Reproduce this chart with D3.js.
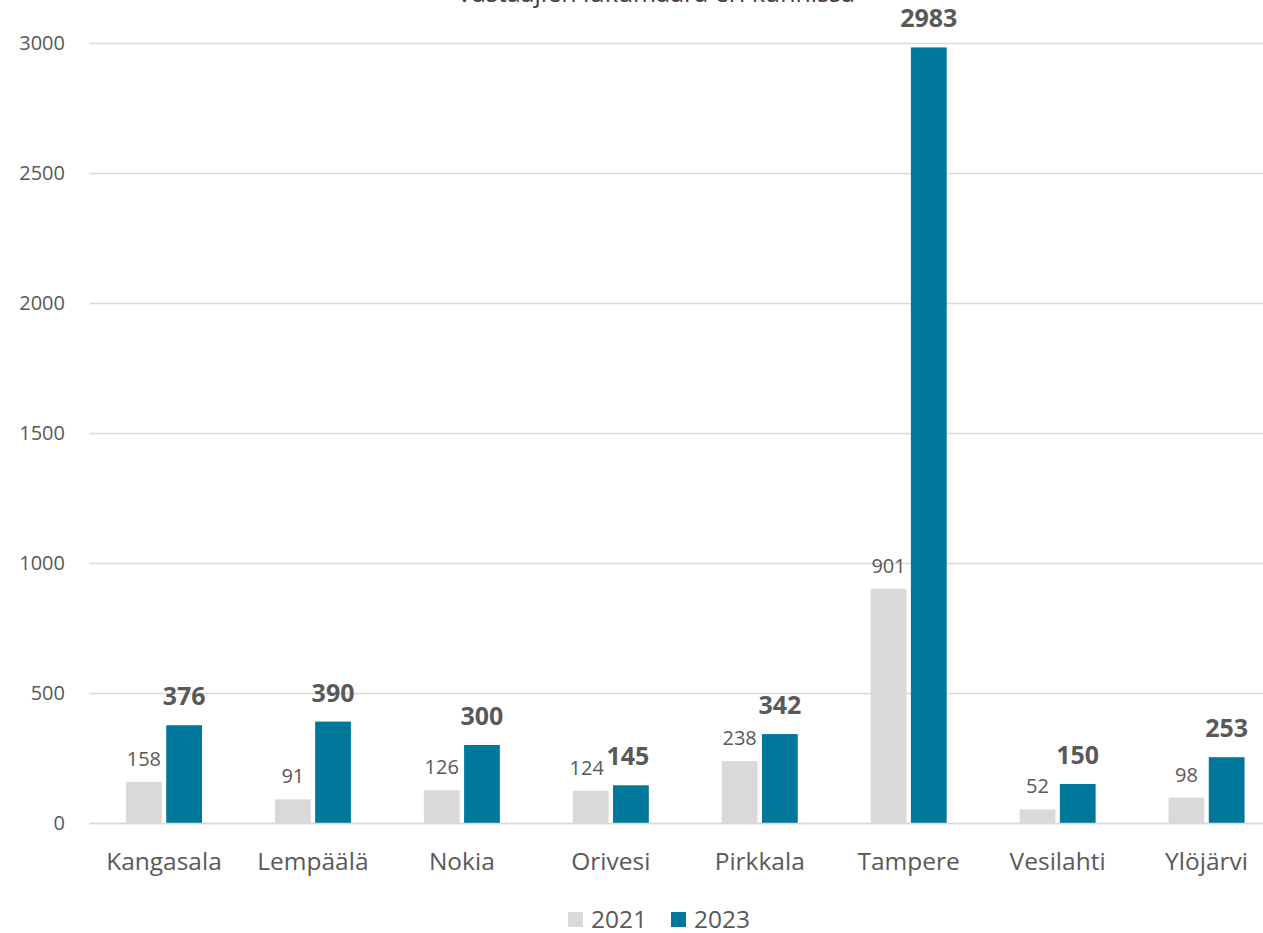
<!DOCTYPE html>
<html lang="fi">
<head>
  <meta charset="UTF-8">
  <title>Vastaajien lukumäärä eri kunnissa</title>
  <script src="https://d3js.org/d3.v7.min.js"></script>
  <style>
    body { margin: 0; background: #fff; }
    svg { display: block; font-family: "Open Sans", sans-serif; }
  </style>
</head>
<body>
<script>
  // data
  const municipalities = ['Kangasala', 'Lempäälä', 'Nokia', 'Orivesi', 'Pirkkala', 'Tampere', 'Vesilahti', 'Ylöjärvi'];
  const years = ['2021', '2023'];
  const values2021 = [158, 91, 126, 124, 238, 901, 52, 98];
  const values2023 = [376, 390, 300, 145, 342, 2983, 150, 253];
  const yTicks = [0, 500, 1000, 1500, 2000, 2500, 3000];

  const colors = { '2021': '#d9d9d9', '2023': '#00789c' };

  const svgWidth = 1263, svgHeight = 933;
  const plot = { left: 89.5, right: 1281, top: 43, bottom: 823 };

  const svg = d3.select('body').append('svg')
    .attr('width', svgWidth)
    .attr('height', svgHeight);

  const x = d3.scaleBand().domain(municipalities).range([plot.left, plot.right]).paddingInner(0).paddingOuter(0);
  const x1 = d3.scaleBand().domain(years).range([36.5, 36.5 + 76]).paddingInner(0.11);
  const y = d3.scaleLinear().domain([0, 3000]).range([plot.bottom, plot.top]);

  // gridlines
  svg.append('g')
    .selectAll('line')
    .data(yTicks)
    .join('line')
    .attr('x1', plot.left)
    .attr('x2', plot.right)
    .attr('y1', d => Math.round(y(d)) + 0.5)
    .attr('y2', d => Math.round(y(d)) + 0.5)
    .attr('stroke', '#d9d9d9')
    .attr('stroke-width', 1.3);

  // y axis labels
  const yAxis = d3.axisLeft(y).tickValues(yTicks).tickFormat(d3.format('d')).tickSize(0).tickPadding(0);
  const gy = svg.append('g')
    .attr('transform', 'translate(65,0)')
    .call(yAxis);
  gy.select('.domain').remove();
  gy.selectAll('text')
    .attr('fill', '#595959')
    .style('font-size', '20px')
    .style('font-family', '"Open Sans", sans-serif');

  // x axis labels
  const xAxis = d3.axisBottom(x).tickSize(0).tickPadding(0);
  const gx = svg.append('g')
    .attr('transform', 'translate(0,' + plot.bottom + ')')
    .call(xAxis);
  gx.select('.domain').remove();
  gx.selectAll('text')
    .attr('fill', '#595959')
    .attr('dy', 0)
    .attr('y', 47)
    .style('font-size', '24.5px')
    .style('font-family', '"Open Sans", sans-serif');

  const rows = municipalities.map((m, i) => ({ name: m, '2021': values2021[i], '2023': values2023[i] }));

  const groups = svg.append('g')
    .selectAll('g')
    .data(rows)
    .join('g')
    .attr('transform', d => 'translate(' + x(d.name) + ',0)');

  groups.selectAll('rect')
    .data(d => years.map(k => ({ key: k, value: d[k] })))
    .join('rect')
    .attr('x', d => x1(d.key))
    .attr('width', x1.bandwidth())
    .attr('y', d => y(d.value))
    .attr('height', d => y(0) - y(d.value))
    .attr('fill', d => colors[d.key]);

  // data labels
  groups.selectAll('text.lbl')
    .data(d => years.map(k => ({ key: k, value: d[k], name: d.name })))
    .join('text')
    .attr('class', 'lbl')
    .attr('x', d => {
      let cx = x1(d.key) + x1.bandwidth() / 2;
      if (d.name === 'Orivesi') cx += d.key === '2021' ? -4 : -3;
      return cx;
    })
    .attr('y', d => y(d.value) - (d.key === '2023' ? 20 : 16))
    .attr('text-anchor', 'middle')
    .attr('fill', '#595959')
    .style('font-size', d => d.key === '2023' ? '25px' : '20px')
    .style('font-weight', d => d.key === '2023' ? 'bold' : 'normal')
    .text(d => d.value);

  // axis base line
  svg.append('line')
    .attr('x1', plot.left)
    .attr('x2', plot.right)
    .attr('y1', plot.bottom + 0.5)
    .attr('y2', plot.bottom + 0.5)
    .attr('stroke', '#d9d9d9')
    .attr('stroke-width', 1.5);

  // title (cut off at the top edge, as in the original)
  svg.append('text')
    .attr('x', 656)
    .attr('y', 2)
    .attr('text-anchor', 'middle')
    .attr('fill', '#404040')
    .style('font-size', '25px')
    .text('Vastaajien lukumäärä eri kunnissa');

  // legend
  const legendX = [568, 671];
  const legend = svg.append('g')
    .selectAll('g')
    .data(years)
    .join('g')
    .attr('transform', (d, i) => 'translate(' + legendX[i] + ',912)');
  legend.append('rect')
    .attr('width', 15)
    .attr('height', 15)
    .attr('fill', d => colors[d]);
  legend.append('text')
    .attr('x', 23)
    .attr('y', 16)
    .attr('fill', '#595959')
    .style('font-size', '24.5px')
    .text(d => d);
</script>
</body>
</html>
